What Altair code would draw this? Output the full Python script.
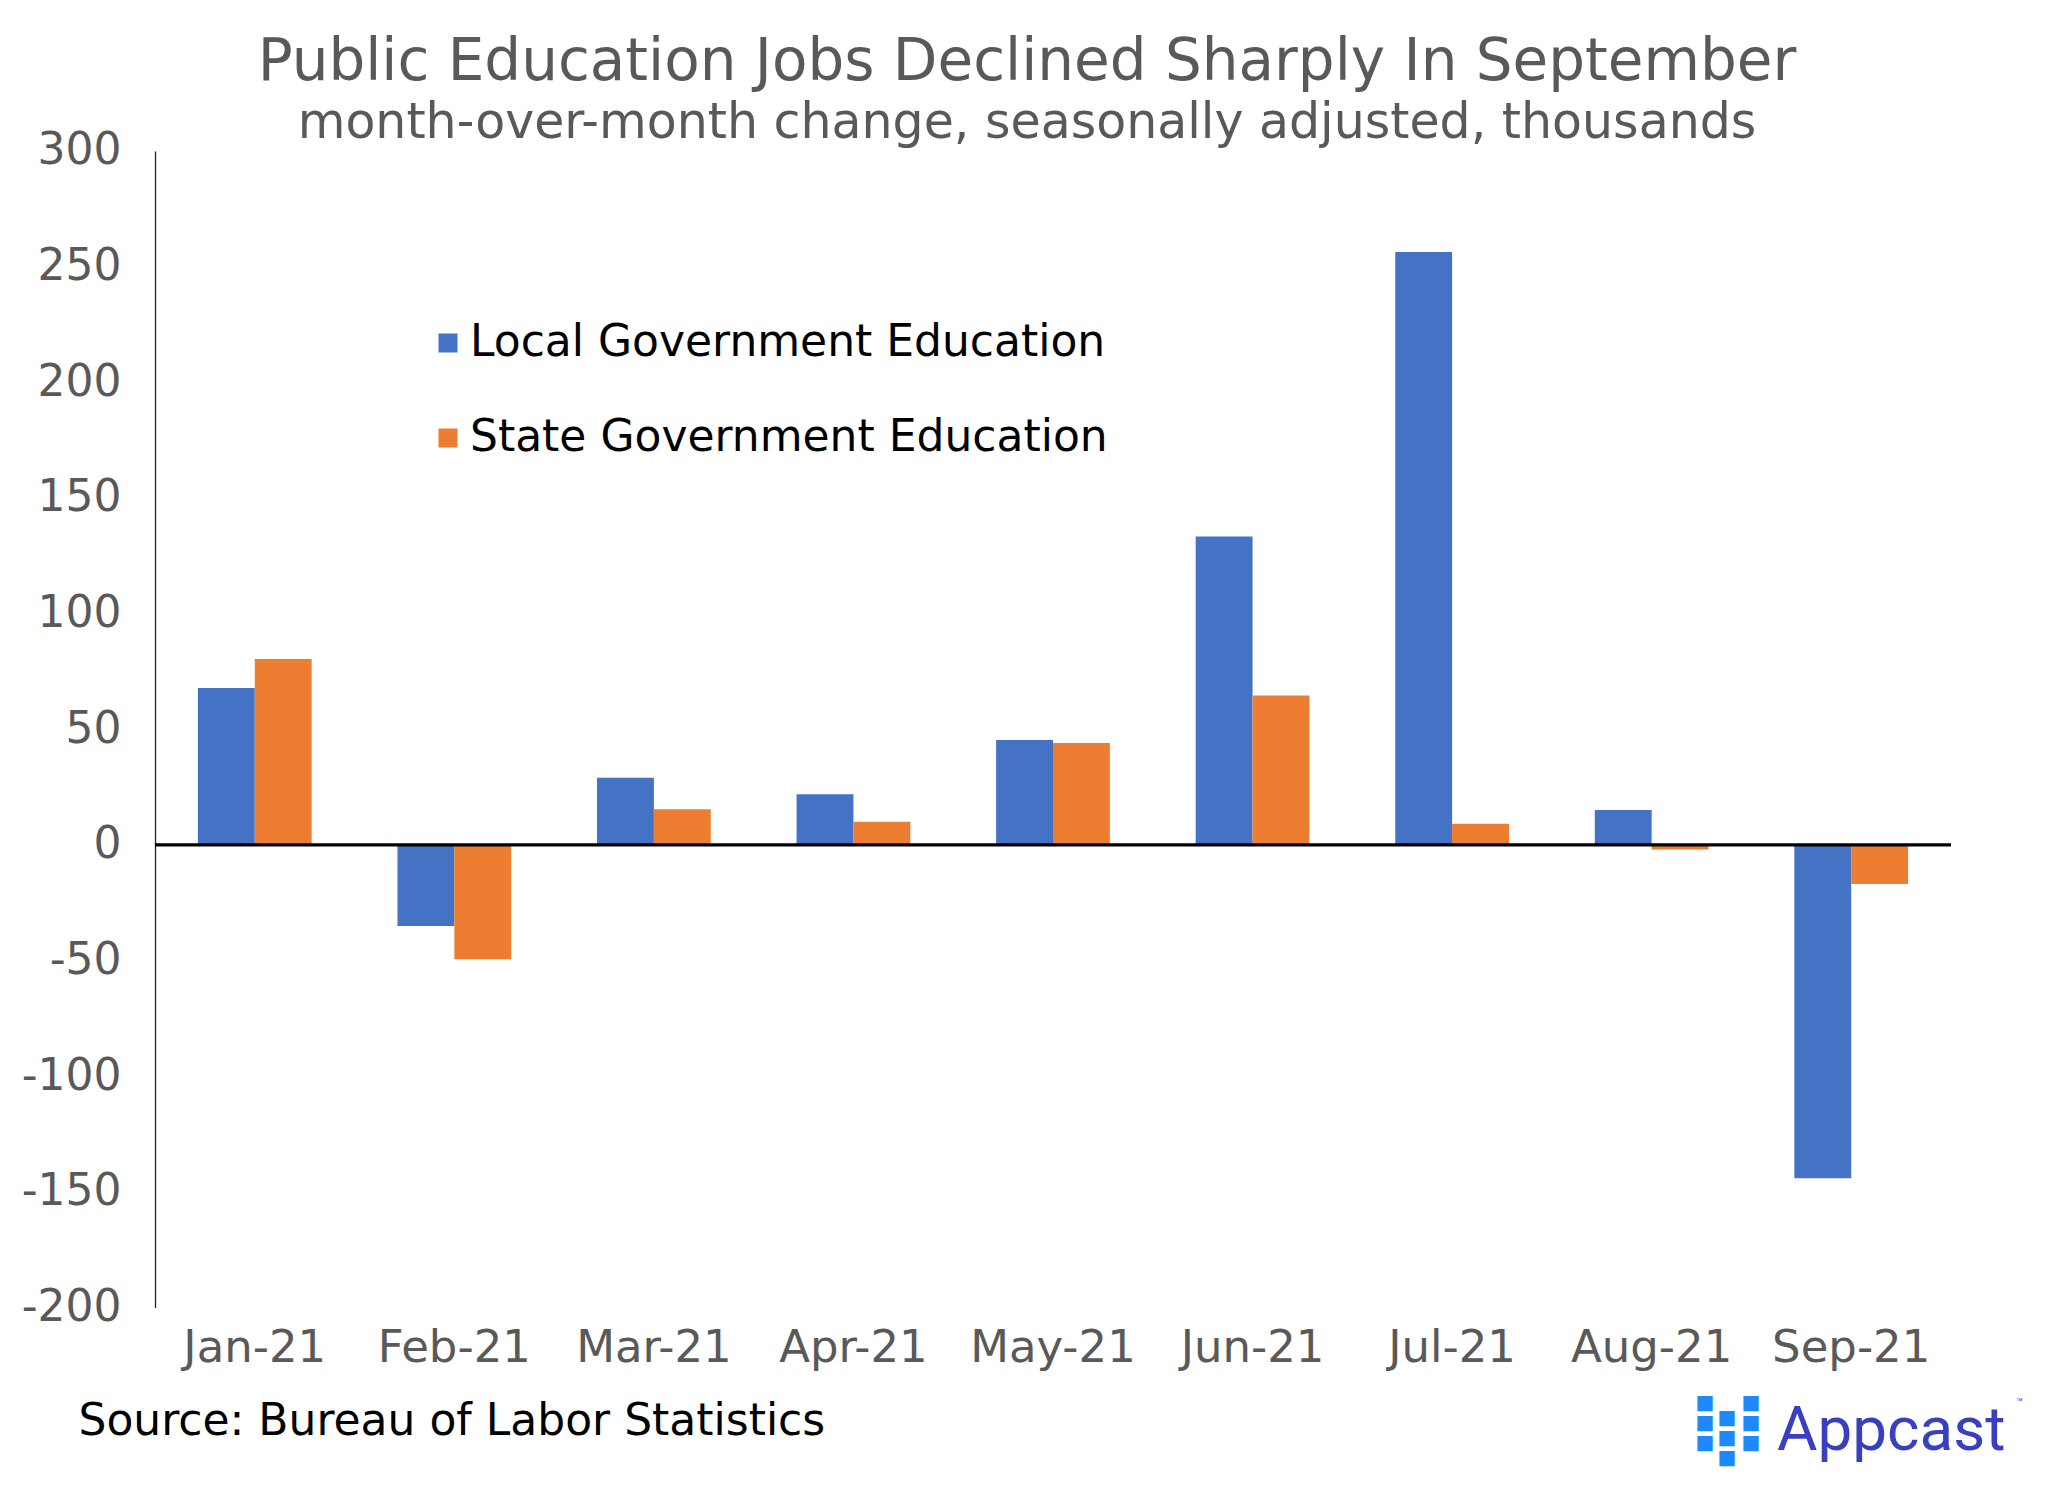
import altair as alt
import pandas as pd

months = ["Jan-21", "Feb-21", "Mar-21", "Apr-21", "May-21", "Jun-21", "Jul-21", "Aug-21", "Sep-21"]
series = ["Local Government Education", "State Government Education"]
local_vals = [67.8, -35.0, 29.1, 21.9, 45.4, 133.3, 256.3, 15.1, -144.1]
state_vals = [80.4, -49.4, 15.4, 10.0, 44.1, 64.6, 9.2, -2.0, -16.9]
colors = ["#4472C4", "#ED7D31"]
y_ticks = [-200, -150, -100, -50, 0, 50, 100, 150, 200, 250, 300]

F = "DejaVu Sans"
GRAY = "#595959"

rows = []
for m, lv, sv in zip(months, local_vals, state_vals):
    rows.append({"month": m, "series": series[0], "value": lv})
    rows.append({"month": m, "series": series[1], "value": sv})
df = pd.DataFrame(rows)

y_axis = alt.Axis(
    values=y_ticks, domain=True, domainColor="#222222", domainWidth=1.3,
    ticks=False, grid=False, labelFontSize=44, labelColor=GRAY, labelFont=F,
    labelPadding=34, title=None,
    labelExpr="(datum.value < 0 ? '-' : '') + abs(datum.value)",
)
y_scale = alt.Scale(domain=[-200, 300], nice=False, zero=False)

bars = alt.Chart(df).mark_bar().encode(
    x=alt.X(
        "month:N",
        sort=months,
        scale=alt.Scale(paddingInner=0.43, paddingOuter=0.215),
        title="Source: Bureau of Labor Statistics",
        axis=alt.Axis(
            domain=False, ticks=False, labelAngle=0, labelFontSize=45, labelColor=GRAY,
            labelFont=F, labelPadding=18,
            titleAnchor="start", titleAlign="left", titleX=-77, titleY=127,
            titleBaseline="alphabetic", titleFontSize=44, titleColor="black",
            titleFontWeight="normal", titleFont=F,
        ),
    ),
    xOffset=alt.XOffset("series:N", sort=series, scale=alt.Scale(paddingInner=0, paddingOuter=0)),
    y=alt.Y("value:Q", scale=y_scale, axis=y_axis),
    color=alt.Color(
        "series:N",
        sort=series,
        scale=alt.Scale(domain=series, range=colors),
        legend=alt.Legend(
            orient="none", legendX=271, legendY=170, title=None, symbolType="square",
            symbolSize=361, symbolStrokeWidth=0, labelFontSize=44, labelColor="black",
            labelFont=F, rowPadding=51, labelOffset=0, padding=0, direction="vertical",
            labelLimit=0,
        ),
    ),
)

zero = alt.Chart(pd.DataFrame({"value": [0]})).mark_rule(color="black", strokeWidth=3.3).encode(
    y=alt.Y("value:Q", scale=y_scale, axis=y_axis)
)

logo_text = alt.Chart(pd.DataFrame({"t": ["Appcast"]})).mark_text(
    font="Roboto", fontSize=62, color="#3A3EC0", align="left", baseline="alphabetic"
).encode(x=alt.value(1622), y=alt.value(1299), text="t:N")

logo_tm = alt.Chart(pd.DataFrame({"t": ["™"]})).mark_text(
    font="Roboto", fontSize=11, color="#3A3EC0", align="left", baseline="top"
).encode(x=alt.value(1861), y=alt.value(1246), text="t:N")

icon_a = alt.Chart(pd.DataFrame({"t": ["■\n■\n■"]})).mark_text(
    font=F, fontSize=20, color="#1E88FF", align="center", baseline="top", lineBreak="\n", lineHeight=20
).encode(x=alt.value(1550), y=alt.value(1242), text="t:N")
icon_b = alt.Chart(pd.DataFrame({"t": ["■\n■\n■"]})).mark_text(
    font=F, fontSize=20, color="#1E88FF", align="center", baseline="top", lineBreak="\n", lineHeight=20
).encode(x=alt.value(1572), y=alt.value(1257), text="t:N")
icon_c = alt.Chart(pd.DataFrame({"t": ["■\n■\n■"]})).mark_text(
    font=F, fontSize=20, color="#1E88FF", align="center", baseline="top", lineBreak="\n", lineHeight=20
).encode(x=alt.value(1596), y=alt.value(1242), text="t:N")

chart = alt.layer(bars, zero, logo_text, logo_tm, icon_a, icon_b, icon_c).properties(
    width=1796,
    height=1156.6,
    padding={"left": 147, "top": 143, "right": 80, "bottom": 165},
    autosize=alt.AutoSizeParams(type="none"),
    background="white",
    title=alt.TitleParams(
        text="Public Education Jobs Declined Sharply In September",
        subtitle="month-over-month change, seasonally adjusted, thousands",
        fontSize=58, subtitleFontSize=49, color=GRAY, subtitleColor=GRAY,
        font=F, subtitleFont=F, fontWeight="normal", anchor="middle", dx=-26,
        subtitlePadding=7, offset=-19,
    ),
).configure_view(stroke=None)

chart.save("out.html", embed_options={"renderer": "svg", "actions": False})
